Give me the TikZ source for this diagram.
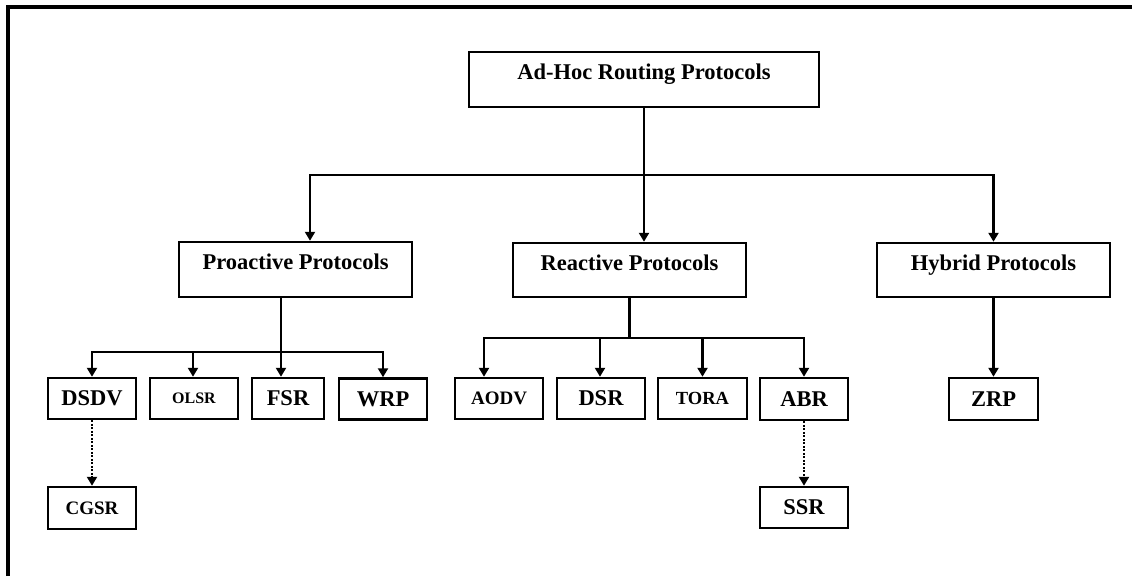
\documentclass[tikz,border=0pt]{standalone}
\usepackage{fontspec}
\setmainfont{Liberation Serif}
\usetikzlibrary{arrows.meta}
\begin{document}
\begin{tikzpicture}[x=1pt,y=-1pt,
  box/.style={draw=black,line width=2.5pt,inner sep=0pt,font=\bfseries\fontsize{22.5}{27}\selectfont},
  bigbox/.style={box,text height=12pt,text depth=12pt,minimum width=233pt,minimum height=55pt},
  sbox/.style={box,minimum width=88pt,minimum height=41pt},
  conn/.style={line width=2.3pt,-{Triangle[width=10pt,length=9pt]}},
  plain/.style={line width=2.3pt},
  dotconn/.style={conn,dash pattern=on 2pt off 1.5pt},
  frame/.style={line width=3.5pt,line join=miter}
]
\useasboundingbox (0,0) rectangle (1132,576);
\draw[frame] (8,576) -- (8,7) -- (1132,7);

% top levels
\node[bigbox,minimum width=350pt] (root) at (644,79.5) {Ad-Hoc Routing Protocols};
\node[bigbox] (pro) at (295.5,269.5) {Proactive Protocols};
\node[bigbox,minimum height=54pt] (rea) at (629.5,270) {Reactive Protocols};
\node[bigbox,minimum height=54pt] (hyb) at (993.5,270) {Hybrid Protocols};

% leaves
\node[sbox] (dsdv) at (92,398.5) {DSDV};
\node[sbox,font=\bfseries\fontsize{16}{19}\selectfont] (olsr) at (194,398.5) {OLSR};
\node[sbox,minimum width=72pt] (fsr) at (288,398.5) {FSR};
\node[sbox] (wrp) at (383,399) {WRP};
\node[sbox,minimum height=42pt,font=\bfseries\fontsize{19}{23}\selectfont] (cgsr) at (92,508) {CGSR};
\node[sbox,font=\bfseries\fontsize{19}{23}\selectfont] (aodv) at (499,398.5) {AODV};
\node[sbox] (dsr) at (601,398.5) {DSR};
\node[sbox,minimum width=89pt,font=\bfseries\fontsize{18.5}{22}\selectfont] (tora) at (702.5,398.5) {TORA};
\node[sbox,minimum height=42pt] (abr) at (804,399) {ABR};
\node[sbox] (ssr) at (804,507.5) {SSR};
\node[sbox,minimum width=89pt,minimum height=42pt] (zrp) at (993.5,399) {ZRP};

% level 1 connectors
\coordinate (j0) at (644,175);
\draw[conn] (root.south) -- (root.south |- rea.north);
\draw[conn] (j0) -| ([xshift=14.5pt]pro.north);
\draw[conn] (j0) -| (hyb.north);

% proactive
\coordinate (j1) at (281,352);
\draw[plain] ([xshift=-14.5pt]pro.south) -- (j1);
\draw[conn] (j1) -| (dsdv.north);
\draw[conn] (j1) -| ([xshift=-1pt]olsr.north);
\draw[conn] (j1) -- (j1 |- fsr.north);
\draw[conn] (j1) -| (wrp.north);
\draw[dotconn] (dsdv.south) -- (cgsr.north);

% reactive
\coordinate (j2) at (629.5,338);
\draw[plain] (rea.south) -- (j2);
\draw[conn] (j2) -| ([xshift=-15pt]aodv.north);
\draw[conn] (j2) -| ([xshift=-1pt]dsr.north);
\draw[conn] (j2) -| (tora.north);
\draw[conn] (j2) -| (abr.north);
\draw[dotconn] (abr.south) -- (ssr.north);

% hybrid
\draw[conn] (hyb.south) -- (zrp.north);
\end{tikzpicture}
\end{document}
